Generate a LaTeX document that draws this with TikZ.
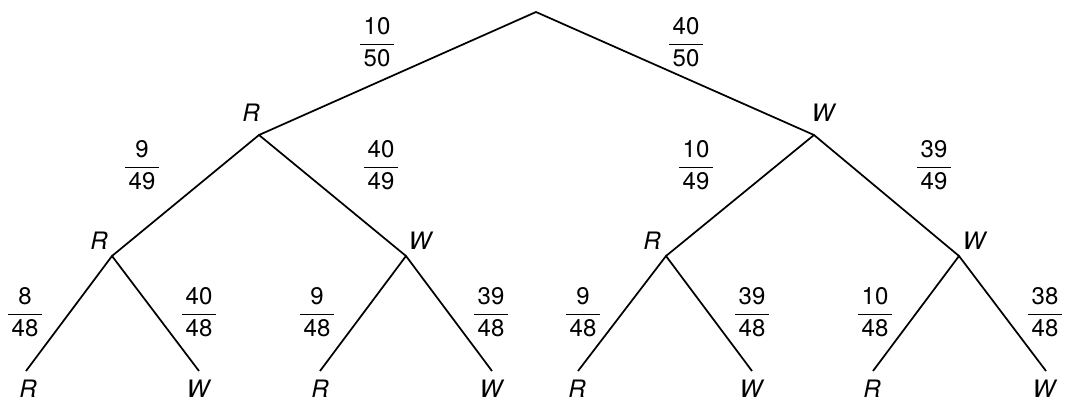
\documentclass[tikz,border=0pt]{standalone}
\usepackage{amsmath}
\usepackage{fontspec}
\setmainfont{TeX Gyre Heros}
\usepackage{tikz}
\usetikzlibrary{positioning}

\newcommand{\pr}[2]{$\dfrac{\,\text{#1}\,}{\,\text{#2}\,}$}

\begin{document}
\begin{tikzpicture}[
  x=0.75pt,y=-0.75pt,
  font=\fontsize{18}{21}\selectfont,
  edge/.style={line width=1.3pt},
  lbl/.style={inner sep=0pt,font=\fontsize{18}{21}\selectfont\itshape},
  prob/.style={inner sep=0pt}
]
\useasboundingbox (0,0) rectangle (1067,403);
% vertices
\coordinate (o) at (536,12);
\coordinate (r) at (259,135);
\coordinate (w) at (814,135);
\coordinate (rr) at (112,256);
\coordinate (rw) at (406,256);
\coordinate (wr) at (666,256);
\coordinate (ww) at (959,256);
\coordinate (rrr) at (26,371);
\coordinate (rrw) at (199,371);
\coordinate (rwr) at (320,371);
\coordinate (rww) at (492,371);
\coordinate (wrr) at (578,371);
\coordinate (wrw) at (752,371);
\coordinate (wwr) at (873,371);
\coordinate (www) at (1046,371);
% branches
\draw[edge] (rr) -- (r) -- (o) -- (w) -- (ww);
\draw[edge] (r) -- (rw);
\draw[edge] (w) -- (wr);
\draw[edge] (rrr) -- (rr) -- (rrw);
\draw[edge] (rwr) -- (rw) -- (rww);
\draw[edge] (wrr) -- (wr) -- (wrw);
\draw[edge] (wwr) -- (ww) -- (www);
% outcomes
\node[lbl] (lr) at (251,113) {R};
\node[lbl] (lw) at (823,113) {W};
\node[lbl] (lrr) at (99,241) {R};
\node[lbl] (lrw) at (420,241) {W};
\node[lbl] (lwr) at (652,241) {R};
\node[lbl] (lww) at (974,241) {W};
\node[lbl] (lrrr) at (28,389) {R};
\node[lbl] (lrrw) at (198,389) {W};
\node[lbl] (lrwr) at (320,389) {R};
\node[lbl] (lrww) at (491,389) {W};
\node[lbl] (lwrr) at (577,389) {R};
\node[lbl] (lwrw) at (751,389) {W};
\node[lbl] (lwwr) at (872,389) {R};
\node[lbl] (lwww) at (1044,389) {W};
% probabilities
\node[prob] (p1) at (377,42) {\pr{10}{50}};
\node[prob] (p2) at (686,42) {\pr{40}{50}};
\node[prob] (p3) at (142,165) {\pr{9}{49}};
\node[prob] (p4) at (381,165) {\pr{40}{49}};
\node[prob] (p5) at (696,165) {\pr{10}{49}};
\node[prob] (p6) at (934,165) {\pr{39}{49}};
\node[prob] (p7) at (25,312) {\pr{8}{48}};
\node[prob] (p8) at (199,312) {\pr{40}{48}};
\node[prob] (p9) at (317,312) {\pr{9}{48}};
\node[prob] (p10) at (491,312) {\pr{39}{48}};
\node[prob] (p11) at (583,312) {\pr{9}{48}};
\node[prob] (p12) at (752,312) {\pr{39}{48}};
\node[prob] (p13) at (875,312) {\pr{10}{48}};
\node[prob] (p14) at (1045,312) {\pr{38}{48}};
\end{tikzpicture}
\end{document}
